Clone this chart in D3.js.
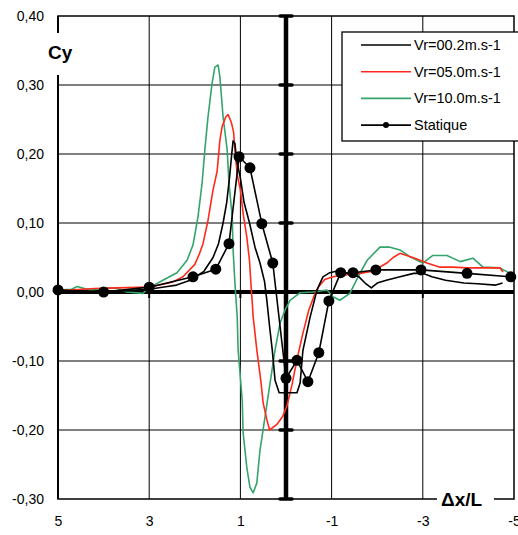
<!DOCTYPE html>
<html>
<head>
<meta charset="utf-8">
<script src="https://cdn.jsdelivr.net/npm/d3@7"></script>
<style>
body { margin: 0; background: #fff; }
text { font-family: "Liberation Sans", Arial, sans-serif; }
</style>
</head>
<body>
<div id="chart"></div>
<script>
// tick values
const xTicks = [5, 3, 1, -1, -3, -5];
const yTicks = [0.4, 0.3, 0.2, 0.1, 0, -0.1, -0.2, -0.3];
const xGrid = [3, 1, -1, -3];
const yGrid = [0.3, 0.2, 0.1, -0.1, -0.2];

const seriesNames = ['Vr=00.2m.s-1', 'Vr=05.0m.s-1', 'Vr=10.0m.s-1', 'Statique'];
const seriesColors = ['#000000', '#ff2a1a', '#34a46c', '#000000'];

// [dx/L, Cy]
const vr02 = [[5.0,0.002],[4.5,0.001],[4.0,0.0],[3.5,0.002],[3.0,0.004],[2.6,0.008],[2.4,0.01],[2.1,0.017],
  [1.8,0.03],[1.6,0.05],[1.48,0.07],[1.38,0.1],[1.3,0.13],[1.24,0.165],[1.19,0.2],[1.16,0.219],[1.12,0.215],
  [1.08,0.19],[1.0,0.165],[0.92,0.13],[0.8,0.1],[0.68,0.065],[0.57,0.042],[0.47,0.015],[0.42,-0.012],
  [0.36,-0.05],[0.3,-0.085],[0.24,-0.128],[0.15,-0.146],[-0.24,-0.146],[-0.31,-0.132],[-0.37,-0.085],
  [-0.53,-0.036],[-0.68,0.003],[-0.81,0.022],[-0.96,0.028],[-1.1,0.03],[-1.35,0.027],[-1.6,0.022],
  [-1.75,0.012],[-1.87,0.006],[-2.0,0.013],[-2.2,0.017],[-2.5,0.022],[-2.8,0.027],[-3.0,0.027],
  [-3.2,0.022],[-3.5,0.017],[-3.9,0.013],[-4.2,0.012],[-4.6,0.010],[-4.75,0.013]];

const vr50 = [[5.0,0.002],[4.74,0.003],[4.2,0.005],[3.71,0.006],[3.0,0.007],[2.5,0.014],[2.26,0.022],
  [2.0,0.04],[1.9,0.055],[1.82,0.07],[1.71,0.104],[1.6,0.148],[1.51,0.175],[1.45,0.22],[1.4,0.24],
  [1.32,0.254],[1.27,0.257],[1.2,0.246],[1.15,0.232],[1.12,0.206],[1.07,0.17],[1.0,0.148],[0.94,0.114],
  [0.86,0.08],[0.8,0.045],[0.77,0.013],[0.74,-0.015],[0.72,-0.036],[0.64,-0.084],[0.55,-0.13],
  [0.5,-0.161],[0.42,-0.185],[0.36,-0.2],[0.2,-0.192],[0.07,-0.18],[-0.02,-0.165],[-0.13,-0.135],
  [-0.24,-0.098],[-0.37,-0.06],[-0.5,-0.026],[-0.62,-0.005],[-0.72,0.008],[-0.85,0.018],[-1.03,0.022],
  [-1.34,0.025],[-1.62,0.027],[-1.9,0.03],[-2.21,0.042],[-2.35,0.05],[-2.5,0.056],[-2.78,0.05],
  [-2.94,0.046],[-3.09,0.042],[-3.38,0.036],[-3.66,0.036],[-3.97,0.035],[-4.41,0.035],[-4.69,0.035],
  [-4.76,0.029]];

const vr100 = [[5.0,0.003],[4.7,0.004],[4.58,0.008],[4.3,0.003],[3.9,0.006],[3.7,0.005],[3.49,0.0],
  [3.14,-0.002],[3.0,0.006],[2.7,0.017],[2.39,0.028],[2.17,0.046],[2.04,0.068],[1.93,0.109],[1.84,0.158],
  [1.78,0.206],[1.71,0.254],[1.62,0.303],[1.56,0.326],[1.49,0.329],[1.45,0.312],[1.38,0.254],[1.29,0.206],
  [1.25,0.158],[1.18,0.109],[1.16,0.061],[1.12,0.013],[1.07,-0.036],[1.05,-0.084],[0.96,-0.157],
  [0.94,-0.204],[0.86,-0.254],[0.79,-0.283],[0.72,-0.291],[0.64,-0.277],[0.57,-0.229],[0.46,-0.181],
  [0.35,-0.132],[0.24,-0.084],[0.13,-0.045],[0.02,-0.026],[-0.09,-0.012],[-0.31,-0.001],[-0.59,0.0],
  [-0.9,0.003],[-1.03,-0.007],[-1.18,-0.012],[-1.4,-0.002],[-1.62,0.027],[-1.78,0.046],[-2.06,0.065],
  [-2.28,0.065],[-2.5,0.061],[-2.72,0.051],[-3.0,0.042],[-3.22,0.053],[-3.53,0.053],[-3.82,0.044],
  [-4.1,0.049],[-4.32,0.036],[-4.69,0.035],[-4.91,0.027]];

const statique = [[5.0,0.003],[4.0,0.0],[3.0,0.007],[2.04,0.022],[1.54,0.033],[1.25,0.07],[1.03,0.196],
  [0.79,0.18],[0.53,0.099],[0.29,0.042],[0.0,-0.125],[-0.24,-0.099],[-0.48,-0.13],[-0.72,-0.088],
  [-0.94,-0.013],[-1.2,0.028],[-1.47,0.028],[-1.97,0.032],[-2.96,0.032],[-3.97,0.027],[-4.93,0.022]];

const width = 518, height = 535;
const margin = {top: 16, right: 4, bottom: 36, left: 58};

const svg = d3.select('#chart').append('svg')
    .attr('width', width)
    .attr('height', height);

const x = d3.scaleLinear().domain([5, -5]).range([margin.left, width - margin.right]);
const y = d3.scaleLinear().domain([-0.3, 0.4]).range([height - margin.bottom, margin.top]);

// gridlines
svg.append('g').selectAll('line')
    .data(yGrid)
    .join('line')
    .attr('x1', x(5)).attr('x2', x(-5))
    .attr('y1', d => y(d)).attr('y2', d => y(d))
    .attr('stroke', '#000').attr('stroke-width', 1);

svg.append('g').selectAll('line')
    .data(xGrid)
    .join('line')
    .attr('x1', d => x(d)).attr('x2', d => x(d))
    .attr('y1', y(0.4)).attr('y2', y(-0.3))
    .attr('stroke', '#000').attr('stroke-width', 1);

// frame
svg.append('rect')
    .attr('x', x(5)).attr('y', y(0.4))
    .attr('width', x(-5) - x(5)).attr('height', y(-0.3) - y(0.4))
    .attr('fill', 'none').attr('stroke', '#000').attr('stroke-width', 1.5);
svg.append('line')
    .attr('x1', x(5)).attr('x2', x(5))
    .attr('y1', y(0.4)).attr('y2', y(-0.3))
    .attr('stroke', '#000').attr('stroke-width', 2);

// tick labels
const fmt = d => d3.format('.2f')(d).replace('.', ',').replace('−', '-');
svg.append('g')
    .attr('transform', `translate(${x(5)},0)`)
    .call(d3.axisLeft(y).tickValues(yTicks).tickSize(0).tickPadding(14).tickFormat(fmt))
    .call(g => g.select('.domain').remove())
    .call(g => g.selectAll('text').attr('font-size', 14).attr('fill', '#000')
        .attr('font-family', '"Liberation Sans", Arial, sans-serif'));

svg.append('g')
    .attr('transform', `translate(0,${y(-0.3)})`)
    .call(d3.axisBottom(x).tickValues(xTicks).tickSize(0).tickPadding(17).tickFormat(d => String(d)))
    .call(g => g.select('.domain').remove())
    .call(g => g.selectAll('text').attr('font-size', 14).attr('fill', '#000')
        .attr('font-family', '"Liberation Sans", Arial, sans-serif'));

// thick axes through the origin
svg.append('line')
    .attr('x1', x(5)).attr('x2', x(-5))
    .attr('y1', y(0)).attr('y2', y(0))
    .attr('stroke', '#000').attr('stroke-width', 4);
svg.append('line')
    .attr('x1', x(0)).attr('x2', x(0))
    .attr('y1', y(0.4)).attr('y2', y(-0.3))
    .attr('stroke', '#000').attr('stroke-width', 4.5);

svg.append('g').selectAll('line')
    .data(yTicks.filter(d => d !== 0))
    .join('line')
    .attr('x1', x(0) - 6).attr('x2', x(0) + 6)
    .attr('y1', d => y(d)).attr('y2', d => y(d))
    .attr('stroke', '#000').attr('stroke-width', 3.5).attr('stroke-linecap', 'round');

svg.append('g').selectAll('line')
    .data(xGrid)
    .join('line')
    .attr('x1', d => x(d)).attr('x2', d => x(d))
    .attr('y1', y(0)).attr('y2', y(0) + 6)
    .attr('stroke', '#000').attr('stroke-width', 2);

// axis titles on a white patch that cuts the frame
const cy = svg.append('g');
cy.append('rect').attr('x', x(5) - 4).attr('y', 33).attr('width', 10).attr('height', 42).attr('fill', '#fff');
cy.append('text')
    .attr('x', 48).attr('y', 59)
    .attr('font-size', 19).attr('font-weight', 'bold')
    .text('Cy');

const dx = svg.append('g');
dx.append('rect').attr('x', 437).attr('y', y(-0.3) - 4).attr('width', 57).attr('height', 10).attr('fill', '#fff');
dx.append('text')
    .attr('x', 441).attr('y', y(-0.3) + 7)
    .attr('font-size', 19).attr('font-weight', 'bold')
    .text('\u0394x/L');

// curves
const line = d3.line().x(d => x(d[0])).y(d => y(d[1]));
const curves = [vr100, vr50, vr02, statique];
const curveColors = [seriesColors[2], seriesColors[1], seriesColors[0], seriesColors[3]];

svg.append('g').selectAll('path')
    .data(curves)
    .join('path')
    .attr('d', line)
    .attr('fill', 'none')
    .attr('stroke', (d, i) => curveColors[i])
    .attr('stroke-width', 1.6)
    .attr('stroke-linejoin', 'round');

svg.append('g').selectAll('circle')
    .data(statique)
    .join('circle')
    .attr('cx', d => x(d[0]))
    .attr('cy', d => y(d[1]))
    .attr('r', 5.5)
    .attr('fill', '#000');

// legend
const legend = svg.append('g').attr('transform', 'translate(342,32)');
legend.append('rect')
    .attr('width', 200).attr('height', 109)
    .attr('fill', '#fff').attr('stroke', '#000').attr('stroke-width', 1.3);

const items = legend.selectAll('.item')
    .data(seriesNames)
    .join('g')
    .attr('class', 'item')
    .attr('transform', (d, i) => `translate(0,${13 + i * 26.7})`);

items.append('line')
    .attr('x1', 19).attr('x2', 69)
    .attr('stroke', (d, i) => seriesColors[i])
    .attr('stroke-width', 1.6);

items.filter((d, i) => i === 3).append('circle')
    .attr('cx', 44).attr('r', 3).attr('fill', '#000');

items.append('text')
    .attr('x', 72).attr('dy', '0.35em')
    .attr('font-size', 14.5)
    .text(d => d);
</script>
</body>
</html>
